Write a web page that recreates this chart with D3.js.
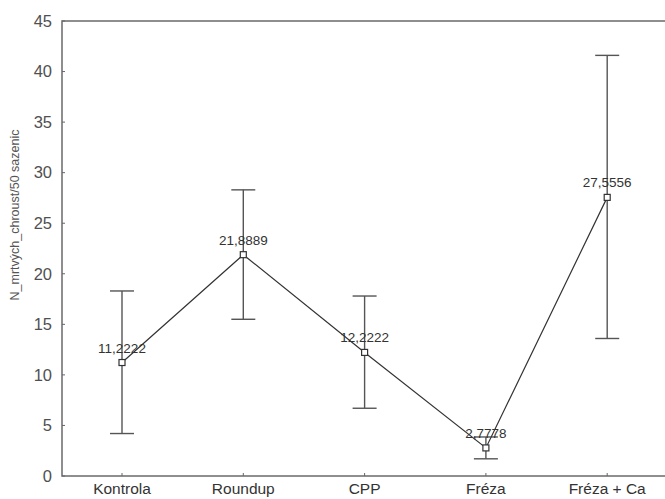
<!DOCTYPE html>
<html>
<head>
<meta charset="utf-8">
<script src="https://cdn.jsdelivr.net/npm/d3@7"></script>
<style>
  html, body { margin: 0; padding: 0; background: #fff; }
  svg { display: block; font-family: "Liberation Sans", Arial, sans-serif; }
  .tick-label { fill: #505050; font-size: 16.5px; }
  .cat-label { fill: #333; font-size: 15.5px; }
  .val-label { fill: #333; font-size: 13.5px; }
</style>
</head>
<body>
<div id="chart"></div>
<script>
const categories = ["Kontrola", "Roundup", "CPP", "Fréza", "Fréza + Ca"];
const means = [11.2222, 21.8889, 12.2222, 2.7778, 27.5556];
const upper = [18.3, 28.3, 17.8, 3.86, 41.6];
const lower = [4.2, 15.5, 6.7, 1.7, 13.6];
const meanLabels = ["11,2222", "21,8889", "12,2222", "2,7778", "27,5556"];
const yTicks = [0, 5, 10, 15, 20, 25, 30, 35, 40, 45];
const yTitle = "N_mrtvých_chroust/50 sazenic";

const width = 665, height = 499;
const margin = { top: 21, left: 62, bottom: 23 };
const innerHeight = height - margin.top - margin.bottom;

const data = categories.map((c, i) => ({ cat: c, mean: means[i], hi: upper[i], lo: lower[i], label: meanLabels[i] }));

const svg = d3.select("#chart").append("svg").attr("width", width).attr("height", height);

const x = d3.scalePoint().domain(categories).range([margin.left + 60, margin.left + 60 + 4 * 121.3]);
const y = d3.scaleLinear().domain([0, 45]).range([margin.top + innerHeight, margin.top]);

// frame (right edge falls outside the picture)
svg.append("rect")
  .attr("x", margin.left).attr("y", y(45))
  .attr("width", width + 10 - margin.left).attr("height", y(0) - y(45))
  .attr("fill", "none").attr("stroke", "#6a6a6a").attr("stroke-width", 1.5);

// y ticks
const yg = svg.append("g");
yg.selectAll("line").data(yTicks).join("line")
  .attr("x1", margin.left).attr("x2", margin.left + 3)
  .attr("y1", (d) => y(d)).attr("y2", (d) => y(d))
  .attr("stroke", "#666");
yg.selectAll("text").data(yTicks).join("text")
  .attr("class", "tick-label")
  .attr("x", margin.left - 10).attr("y", (d) => y(d))
  .attr("dy", "0.35em").attr("text-anchor", "end")
  .text((d) => d);

// x ticks
const xg = svg.append("g");
xg.selectAll("line").data(categories).join("line")
  .attr("x1", (d) => x(d)).attr("x2", (d) => x(d))
  .attr("y1", y(0)).attr("y2", y(0) - 3)
  .attr("stroke", "#666");
xg.selectAll("text").data(categories).join("text")
  .attr("class", "cat-label")
  .attr("x", (d) => x(d)).attr("y", y(0) + 18)
  .attr("text-anchor", "middle")
  .text((d) => d);

svg.append("text")
  .attr("transform", `translate(19, 215) rotate(-90)`)
  .attr("text-anchor", "middle")
  .attr("fill", "#555").attr("font-size", "12.5px")
  .text(yTitle);

// error bars
const eb = svg.append("g").attr("stroke", "#555").attr("stroke-width", 1.4);
eb.selectAll("line.whisker").data(data).join("line").attr("class", "whisker")
  .attr("x1", (d) => x(d.cat)).attr("x2", (d) => x(d.cat))
  .attr("y1", (d) => y(d.hi)).attr("y2", (d) => y(d.lo));
eb.selectAll("line.cap-hi").data(data).join("line").attr("class", "cap-hi")
  .attr("x1", (d) => x(d.cat) - 12).attr("x2", (d) => x(d.cat) + 12)
  .attr("y1", (d) => y(d.hi)).attr("y2", (d) => y(d.hi));
eb.selectAll("line.cap-lo").data(data).join("line").attr("class", "cap-lo")
  .attr("x1", (d) => x(d.cat) - 12).attr("x2", (d) => x(d.cat) + 12)
  .attr("y1", (d) => y(d.lo)).attr("y2", (d) => y(d.lo));

// mean line
const line = d3.line().x((d) => x(d.cat)).y((d) => y(d.mean));
svg.append("path").datum(data)
  .attr("d", line).attr("fill", "none")
  .attr("stroke", "#333").attr("stroke-width", 1.2);

// markers
svg.selectAll("rect.pt").data(data).join("rect").attr("class", "pt")
  .attr("x", (d) => x(d.cat) - 3).attr("y", (d) => y(d.mean) - 3)
  .attr("width", 6).attr("height", 6)
  .attr("fill", "#fff").attr("stroke", "#333").attr("stroke-width", 1.2);

// value labels
svg.selectAll("text.val").data(data).join("text").attr("class", "val-label")
  .attr("x", (d) => x(d.cat)).attr("y", (d) => y(d.mean) - 10)
  .attr("text-anchor", "middle")
  .text((d) => d.label);
</script>
</body>
</html>
